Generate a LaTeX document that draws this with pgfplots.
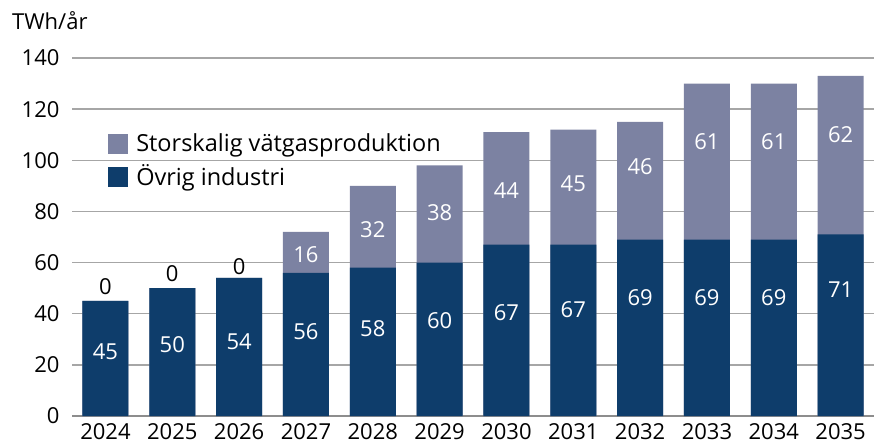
\documentclass[border=0pt]{standalone}
\usepackage{fontspec}
\setmainfont{Open Sans}
\usepackage{pgfplots}
\pgfplotsset{compat=1.18}
\definecolor{navy}{RGB}{14,61,107}
\definecolor{lightp}{RGB}{124,130,162}
\definecolor{gridc}{RGB}{166,166,166}
\begin{document}
\fontsize{22pt}{26pt}\selectfont
\begin{tikzpicture}[x=1pt,y=1pt]
\path[use as bounding box] (0,0) rectangle (874,445);
\begin{axis}[
  at={(72pt,29pt)}, anchor=south west,
  scale only axis, width=802pt, height=358pt,
  xmin=-0.5, xmax=11.5, ymin=0, ymax=140,
  xtick={0,...,11},
  xticklabels={2024,2025,2026,2027,2028,2029,2030,2031,2032,2033,2034,2035},
  ytick={0,20,...,140},
  /pgf/number format/assume math mode=true,
  ticklabel style={font=\fontsize{22pt}{26pt}\selectfont},
  yticklabel style={xshift=-5pt},
  xticklabel style={yshift=0pt},
  major tick length=0pt,
  axis x line*=bottom, axis y line*=left,
  x axis line style={draw=gridc!85!black, line width=2.5pt},
  y axis line style={draw=none},
  ymajorgrids, major grid style={draw=gridc, line width=1.3pt},
  legend style={draw=none, fill=none, at={(rel axis cs:0.045,0.795)}, anchor=north west,
    font=\fontsize{23.5pt}{27pt}\selectfont, row sep=6pt, inner sep=0pt,
    legend cell align=left,
    /tikz/every odd column/.append style={column sep=6pt}},
  legend image code/.code={\fill[#1] (0pt,-10pt) rectangle (20pt,10pt);},
]
\addplot[ybar, bar width=46pt, bar shift=0pt, fill=lightp, draw=none]
  coordinates {(0,45) (1,50) (2,54) (3,72) (4,90) (5,98) (6,111) (7,112) (8,115) (9,130) (10,130) (11,133)};
\addlegendentry{Storskalig vätgasproduktion}
\addplot[ybar, bar width=46pt, bar shift=0pt, fill=navy, draw=none]
  coordinates {(0,45) (1,50) (2,54) (3,56) (4,58) (5,60) (6,67) (7,67) (8,69) (9,69) (10,69) (11,71)};
\addlegendentry{Övrig industri}
% labels for Övrig industri
\addplot[draw=none, forget plot, nodes near coords, point meta=explicit symbolic,
  every node near coord/.append style={anchor=center, text=white, inner sep=0pt, font=\fontsize{22pt}{26pt}\selectfont}]
  coordinates {(0,25.1)[45] (1,27.8)[50] (2,29.1)[54] (3,33.0)[56] (4,34.3)[58] (5,37.2)[60]
    (6,40.4)[67] (7,41.5)[67] (8,46.3)[69] (9,46.3)[69] (10,46.3)[69] (11,49.5)[71]};
% labels for Storskalig
\addplot[draw=none, forget plot, nodes near coords, point meta=explicit symbolic,
  every node near coord/.append style={anchor=center, text=white, inner sep=0pt, font=\fontsize{22pt}{26pt}\selectfont}]
  coordinates {(3,63.0)[16] (4,73.0)[32] (5,79.5)[38] (6,88.1)[44] (7,91.0)[45] (8,97.5)[46]
    (9,107.3)[61] (10,107.3)[61] (11,109.9)[62]};
\addplot[draw=none, forget plot, nodes near coords, point meta=explicit symbolic,
  every node near coord/.append style={anchor=center, text=black, inner sep=0pt, font=\fontsize{22pt}{26pt}\selectfont}]
  coordinates {(0,50.6)[0] (1,55.8)[0] (2,58.4)[0]};
\end{axis}
\node[anchor=base west, inner sep=0pt] at (12,415) {TWh/år};
\end{tikzpicture}
\end{document}
